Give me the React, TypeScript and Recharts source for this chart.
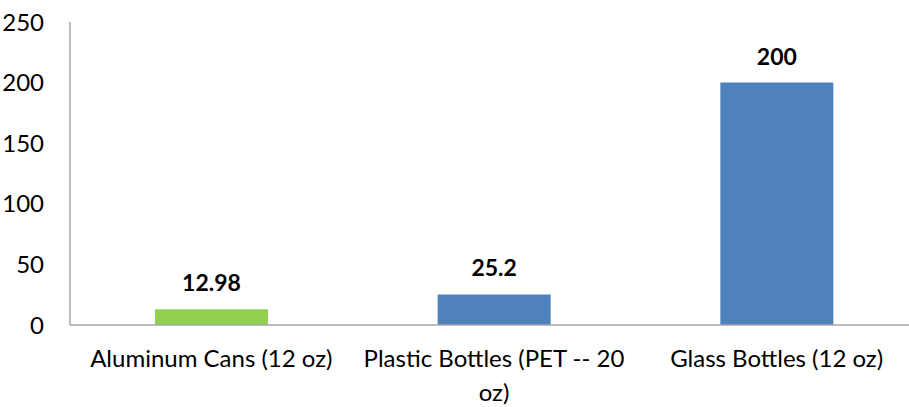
import React from "react";
import { BarChart, Bar, XAxis, YAxis, Cell, LabelList } from "recharts";

const categories = ["Aluminum Cans (12 oz)", "Plastic Bottles (PET -- 20 oz)", "Glass Bottles (12 oz)"];
const categoryLines = [["Aluminum Cans (12 oz)"], ["Plastic Bottles (PET -- 20", "oz)"], ["Glass Bottles (12 oz)"]];
const values = [12.98, 25.2, 200];
const barColors = ["#92D050", "#4F81BD", "#4F81BD"];
const yTicks = [0, 50, 100, 150, 200, 250];

const data = categories.map((c, i) => ({ name: c, value: values[i], idx: i }));

const FONT = "Lato, 'Open Sans', sans-serif";

const XTick = (props: any) => {
  const { x, y, payload } = props;
  const lines = categoryLines[payload.index] ?? [payload.value];
  return (
    <g>
      {lines.map((l: string, i: number) => (
        <text key={i} x={x} y={y + 34 + i * 34} textAnchor="middle" fontSize={24} fontFamily={FONT} fill="#000">
          {l}
        </text>
      ))}
    </g>
  );
};

export default function App() {
  return (
    <div style={{ position: "absolute", left: 0, top: 0, width: 909, height: 407, overflow: "hidden", background: "#fff" }}>
      <BarChart width={920} height={407} data={data} margin={{ top: 22, right: 2, bottom: 52, left: 0 }} barCategoryGap="20%">
        <XAxis
          dataKey="name"
          height={30}
          tick={<XTick />}
          tickLine={false}
          axisLine={{ stroke: "#A6A6A6", strokeWidth: 1.5 }}
          interval={0}
        />
        <YAxis
          width={70}
          domain={[0, 250]}
          ticks={yTicks}
          tickLine={false}
          axisLine={{ stroke: "#A6A6A6", strokeWidth: 1.5 }}
          tick={{ fontSize: 24, fontFamily: FONT, fill: "#000", dx: -18 }}
        />
        <Bar dataKey="value" isAnimationActive={false} maxBarSize={113} barSize={113}>
          {data.map((d, i) => (
            <Cell key={i} fill={barColors[i]} />
          ))}
          <LabelList dataKey="value" position="top" offset={18} style={{ fontSize: 23, fontWeight: 700, fontFamily: FONT, fill: "#000" }} />
        </Bar>
      </BarChart>
    </div>
  );
}
